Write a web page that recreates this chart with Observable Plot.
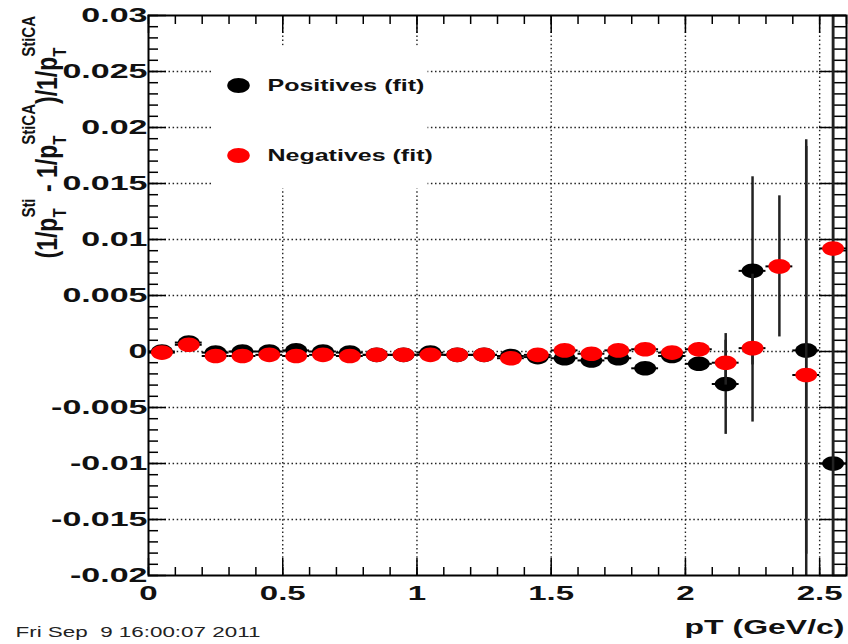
<!DOCTYPE html>
<html><head><meta charset="utf-8">
<script src="https://cdn.jsdelivr.net/npm/d3@7"></script>
<script src="https://cdn.jsdelivr.net/npm/@observablehq/plot@0.6"></script>
<style>html,body{margin:0;padding:0;background:#fff;} #chart{width:848px;height:644px;overflow:hidden}</style>
</head><body><div id="chart"></div>
<script>
// ---- data ----
const binCenters = [0.05,0.15,0.25,0.35,0.45,0.55,0.65,0.75,0.85,0.95,1.05,1.15,1.25,1.35,1.45,1.55,1.65,1.75,1.85,1.95,2.05,2.15,2.25,2.35,2.45,2.55];
const binHalfWidth = 0.05;
const posY   = [0.0000,0.0008,-0.0001,0.0000,0.0000,0.0001,0.0000,-0.0001,-0.0003,-0.0003,-0.0001,-0.0003,-0.0003,-0.0004,-0.0005,-0.0006,-0.0008,-0.0006,-0.0015,-0.0004,-0.0011,-0.0029,0.0072,null,0.0001,-0.0100];
const posErr = [0.0002,0.0002,0.0002,0.0002,0.0002,0.0002,0.0002,0.0002,0.0002,0.0002,0.0002,0.0002,0.0002,0.0002,0.0003,0.0003,0.0003,0.0004,0.0004,0.0005,0.0006,0.0045,0.0084,null,0.0182,0.0450];
const negY   = [-0.0001,0.0006,-0.0004,-0.0004,-0.0003,-0.0004,-0.0003,-0.0004,-0.0003,-0.0003,-0.0003,-0.0003,-0.0003,-0.0006,-0.0003,0.0001,-0.0002,0.0001,0.0002,-0.0001,0.0002,-0.0010,0.0003,0.0076,-0.0021,0.0092];
const negErr = [0.0002,0.0002,0.0002,0.0002,0.0002,0.0002,0.0002,0.0002,0.0002,0.0002,0.0002,0.0002,0.0002,0.0002,0.0003,0.0003,0.0003,0.0004,0.0004,0.0005,0.0006,0.0020,0.0066,0.0063,0.0210,0.0400];
const xDomain = [0, 2.6];
const yDomain = [-0.02, 0.03];
const xTickValues = [0,0.5,1,1.5,2,2.5];
const xTickLabels = ["0","0.5","1","1.5","2","2.5"];
const yTickValues = [-0.02,-0.015,-0.01,-0.005,0,0.005,0.01,0.015,0.02,0.025,0.03];
const yTickLabels = ["-0.02","-0.015","-0.01","-0.005","0","0.005","0.01","0.015","0.02","0.025","0.03"];
const xGridValues = [0.5,1,1.5,2,2.5];
const yGridValues = [-0.015,-0.01,-0.005,0,0.005,0.01,0.015,0.02,0.025];
const legendLabels = ["Positives (fit)","Negatives (fit)"];
const seriesColors = ["#000000","#ff0000"];
const xTitle = "pT (GeV/c)";
const yTitleParts = [["(1/p","T","Sti"],[" - 1/p","T","StiCA"],[")/1/p","T","StiCA"]];
const dateStamp = "Fri Sep  9 16:00:07 2011";

// ---- build ----
const rows = (ys, errs) => binCenters.map((x,i)=>({x, y: ys[i], e: errs[i]})).filter(d => d.y != null);
const pos = rows(posY, posErr), neg = rows(negY, negErr);
const xMinor = d3.range(0, 26 + 1).map(i => i / 10);
const yMinor = d3.range(-20, 31).map(i => i / 1000);
const legendRows = legendLabels.map((label, i) => ({label, i}));

const ellipse = {draw(ctx, size) {
  const r = Math.sqrt(size / Math.PI), rx = r * 1.5, ry = r, k = 0.5523;
  ctx.moveTo(rx, 0);
  ctx.bezierCurveTo(rx, k*ry, k*rx, ry, 0, ry);
  ctx.bezierCurveTo(-k*rx, ry, -rx, k*ry, -rx, 0);
  ctx.bezierCurveTo(-rx, -k*ry, -k*rx, -ry, 0, -ry);
  ctx.bezierCurveTo(k*rx, -ry, rx, -k*ry, rx, 0);
  ctx.closePath();
}};

const font = "'Liberation Sans', Arial, Helvetica, sans-serif";
const dotted = {stroke: "#222", strokeWidth: 1.4, strokeDasharray: "1.5,2.6"};
const tickStyle = {stroke: "black", strokeWidth: 1.5};

function seriesMarks(data, color) {
  return [
    Plot.ruleY(data, {y: "y", x1: d => d.x - binHalfWidth, x2: d => d.x + binHalfWidth, stroke: "black", strokeWidth: 2}),
    Plot.ruleX(data, {x: "x", y1: d => d.y - d.e, y2: d => d.y + d.e, stroke: "#222", strokeWidth: 2.5}),
    Plot.dot(data, {x: "x", y: "y", symbol: ellipse, r: 7.3, fill: color, stroke: "none"})
  ];
}

const legendMarks = legendRows.flatMap(({label, i}) => [
  Plot.dot([label], {frameAnchor: "top-left", dx: 90, dy: 70 + 70 * i, symbol: ellipse, r: 7.5, fill: seriesColors[i], stroke: "none"}),
  Plot.text([label], {frameAnchor: "top-left", dx: 119, dy: 70 + 70 * i, text: d => d, textAnchor: "start", lineAnchor: "middle", fontSize: 17, fontWeight: "bold", fill: "#111", ariaDescription: "stretch:1.47"})
]);

const chart = Plot.plot({
  width: 848, height: 644,
  marginLeft: 148, marginRight: 2, marginTop: 15, marginBottom: 69,
  style: {fontFamily: font, background: "white"},
  x: {domain: xDomain, axis: null},
  y: {domain: yDomain, axis: null, clamp: true},
  marks: [
    Plot.ruleX(xGridValues, {x: d => d, ...dotted}),
    Plot.ruleY(yGridValues, {y: d => d, ...dotted}),
    Plot.frame({fill: "white", stroke: "none", insetLeft: 64, insetTop: 30, insetRight: 419, insetBottom: 387}),
    ...legendMarks,
    // ticks
    Plot.ruleX(xMinor, {x: d => d, y1: yDomain[0], y2: yDomain[0], insetBottom: 8, ...tickStyle}),
    Plot.ruleX(xTickValues, {x: d => d, y1: yDomain[0], y2: yDomain[0], insetBottom: 17, ...tickStyle}),
    Plot.ruleX(xMinor, {x: d => d, y1: yDomain[1], y2: yDomain[1], insetTop: 9, ...tickStyle}),
    Plot.ruleX(xTickValues, {x: d => d, y1: yDomain[1], y2: yDomain[1], insetTop: 18, ...tickStyle}),
    Plot.ruleY(yMinor, {y: d => d, x1: xDomain[0], x2: xDomain[0], insetRight: -10, ...tickStyle}),
    Plot.ruleY(yTickValues, {y: d => d, x1: xDomain[0], x2: xDomain[0], insetRight: -18, ...tickStyle}),
    Plot.ruleY(yMinor, {y: d => d, x1: xDomain[1], x2: xDomain[1], insetLeft: -14, ...tickStyle}),
    Plot.ruleY(yTickValues, {y: d => d, x1: xDomain[1], x2: xDomain[1], insetLeft: -27, ...tickStyle}),
    // data
    ...seriesMarks(pos, seriesColors[0]),
    ...seriesMarks(neg, seriesColors[1]),
    Plot.frame({stroke: "black", strokeWidth: 2}),
    // tick labels
    Plot.text(yTickValues, {x: () => xDomain[0], y: d => d, text: (d, i) => yTickLabels[i], textAnchor: "end", dx: -1, fontSize: 20, fontWeight: "bold", fill: "#111", ariaDescription: "stretch:1.7"}),
    Plot.text(xTickValues, {x: d => d, y: () => yDomain[0], text: (d, i) => xTickLabels[i], lineAnchor: "top", dy: 10, fontSize: 20, fontWeight: "bold", fill: "#111", ariaDescription: "stretch:1.65"}),
    Plot.text([xTitle], {frameAnchor: "bottom-right", text: d => d, textAnchor: "end", lineAnchor: "middle", dx: -2, dy: 52, fontSize: 20, fontWeight: "bold", fill: "#111", ariaDescription: "stretch:1.6"}),
    Plot.text([dateStamp], {frameAnchor: "bottom-left", text: d => d, textAnchor: "start", lineAnchor: "middle", dx: -133, dy: 57, fontSize: 14, fill: "#222", ariaDescription: "stretch:1.6"})
  ]
});

document.getElementById("chart").appendChild(chart);

// horizontal stretch of the ROOT-style text (via textLength, keeps Plot's positions)
chart.querySelectorAll("g[aria-description]").forEach(g => {
  const m = /stretch:([\d.]+)/.exec(g.getAttribute("aria-description") || "");
  if (!m) return;
  const s = +m[1];
  g.querySelectorAll("text").forEach(t => {
    const L = t.getComputedTextLength();
    if (L > 0) {
      t.setAttribute("textLength", (L * s).toFixed(1));
      t.setAttribute("lengthAdjust", "spacingAndGlyphs");
    }
  });
});

// y-axis title with sub/superscripts
const yt = d3.select(chart).append("text")
  .attr("transform", "translate(57,16) scale(1.25,1) rotate(-90)")
  .attr("text-anchor", "end")
  .attr("font-family", font).attr("font-weight", "bold").attr("font-size", 23).attr("fill", "#111");
yTitleParts.forEach(([main, sub, sup], i) => {
  yt.append("tspan").attr("dy", i === 0 ? 0 : 18).text(main);
  yt.append("tspan").attr("font-size", 15).attr("dy", 7).text(sub);
  yt.append("tspan").attr("font-size", 15).attr("dx", -9.2).attr("dy", -25).text(sup);
});
</script>
</body></html>
